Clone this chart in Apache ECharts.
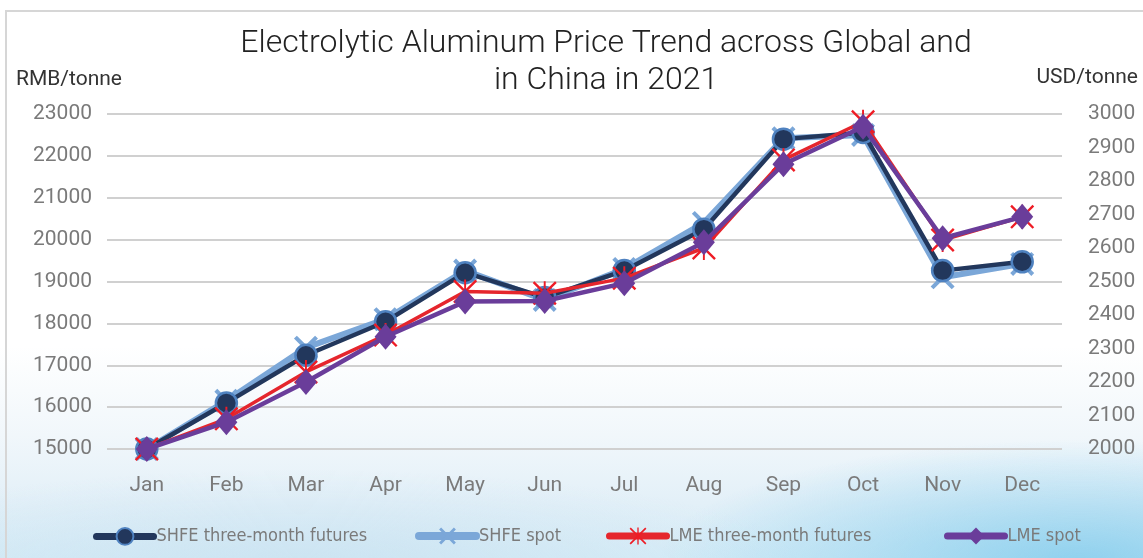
<!DOCTYPE html>
<html>
<head>
<meta charset="utf-8">
<script src="https://cdn.jsdelivr.net/npm/echarts@6/dist/echarts.min.js"></script>
<style>
html,body{margin:0;padding:0;width:1143px;height:558px;overflow:hidden;}
body{background:
  radial-gradient(ellipse 420px 120px at 1080px 560px, rgba(120,200,235,0.75), rgba(120,200,235,0) 100%),
  radial-gradient(ellipse 500px 90px at 300px 560px, rgba(200,225,240,0.7), rgba(200,225,240,0) 100%),
  linear-gradient(to bottom, #ffffff 0%, #ffffff 62%, #f1f7fb 78%, #e3f0f8 90%, #d6ecf7 100%);}
#frame{position:absolute;left:5px;top:10px;width:1200px;height:600px;border-left:2px solid #d6d6d6;border-top:2px solid #d6d6d6;}
#chart{position:absolute;left:0;top:0;width:1143px;height:558px;}
</style>
</head>
<body>
<div id="frame"></div>
<div id="chart"></div>
<script>
const months = ['Jan','Feb','Mar','Apr','May','Jun','Jul','Aug','Sep','Oct','Nov','Dec'];
// RMB/tonne (left axis)
const shfeFutures = [15000,16100,17240,18040,19210,18620,19260,20250,22400,22560,19260,19470];
const shfeSpot    = [15000,16150,17420,18100,19260,18560,19300,20400,22420,22500,19100,19420];
// USD/tonne (right axis)
const lmeFutures  = [2000,2090,2230,2340,2470,2465,2510,2600,2863,2977,2624,2693];
const lmeSpot     = [2000,2080,2200,2335,2440,2442,2495,2617,2850,2962,2629,2693];
const leftTicks = {min:15000, max:23000, interval:1000};
const rightTicks = {min:2000, max:3000, interval:100};
const seriesNames = ['SHFE three-month futures','SHFE spot','LME three-month futures','LME spot'];

const xPath = 'path://M0,12L12,0L50,38L88,0L100,12L62,50L100,88L88,100L50,62L12,100L0,88L38,50Z';
const starPath = 'path://M0,7L7,0L50,43L93,0L100,7L57,50L100,93L93,100L50,57L7,100L0,93L43,50Z M46,0L54,0L54,100L46,100Z';

const chart = echarts.init(document.getElementById('chart'), null, {renderer:'canvas'});
const labelColor = '#7a7a7a';
const legendText = {fontFamily:'"Liberation Sans Narrow","DejaVu Sans Condensed",sans-serif', fontSize:18, color:'#7a7a7a', padding:[0,0,0,-2]};
function legendAt(name, left, lw){
  return {data:[{name:name}], left:left, top:527, itemWidth:57, itemHeight:21, itemGap:0,
          textStyle:legendText, padding:0, lineStyle:{width:lw, cap:'round'}};
}
chart.setOption({
  backgroundColor:'transparent',
  animation:false,
  title:{
    text:'Electrolytic Aluminum Price Trend across Global and\nin China in 2021',
    left:601, top:20, textAlign:'center',
    textStyle:{fontFamily:'Roboto, sans-serif', fontWeight:300, fontSize:32, color:'#222', lineHeight:37}
  },
  graphic:[
    {type:'text', left:16, top:69, style:{text:'RMB/tonne', font:'21px Roboto, sans-serif', fill:'#333'}},
    {type:'text', right:5, top:67, style:{text:'USD/tonne', font:'21px Roboto, sans-serif', fill:'#333'}}
  ],
  legend:[legendAt(seriesNames[0],93,7), legendAt(seriesNames[1],415,8), legendAt(seriesNames[2],606,7), legendAt(seriesNames[3],944,7)],
  grid:{left:107, right:81, top:114, bottom:109, containLabel:false},
  xAxis:{
    type:'category', data:months, boundaryGap:true,
    axisLine:{show:false}, axisTick:{show:false},
    axisLabel:{color:labelColor, fontSize:21, fontFamily:'Roboto, sans-serif', margin:26}
  },
  yAxis:[
    {type:'value', min:leftTicks.min, max:leftTicks.max, interval:leftTicks.interval,
     axisLine:{show:false}, axisTick:{show:false},
     axisLabel:{color:labelColor, fontSize:21, fontFamily:'Roboto, sans-serif', margin:15, formatter:v=>String(v)},
     splitLine:{lineStyle:{color:'#d0d0d0', width:2}}},
    {type:'value', min:rightTicks.min, max:rightTicks.max, interval:rightTicks.interval,
     axisLine:{show:false}, axisTick:{show:false},
     axisLabel:{color:labelColor, fontSize:21, fontFamily:'Roboto, sans-serif', margin:26, formatter:v=>String(v)},
     splitLine:{show:false}}
  ],
  series:[
    {name:seriesNames[1], type:'line', yAxisIndex:0, data:shfeSpot, z:2,
     symbol:xPath, symbolSize:24, lineStyle:{color:'#7ba7d8', width:6},
     itemStyle:{color:'#7ba7d8'}},
    {name:seriesNames[0], type:'line', yAxisIndex:0, data:shfeFutures, z:3,
     symbol:'circle', symbolSize:21, lineStyle:{color:'#22375c', width:4.5},
     itemStyle:{color:'#22375c', borderColor:'#4f82c0', borderWidth:2.5}},
    {name:seriesNames[2], type:'line', yAxisIndex:1, data:lmeFutures, z:4,
     symbol:starPath, symbolSize:24, lineStyle:{color:'#e5262d', width:3.5},
     itemStyle:{color:'#ee1c25'}},
    {name:seriesNames[3], type:'line', yAxisIndex:1, data:lmeSpot, z:5,
     symbol:'diamond', symbolSize:[22,26], lineStyle:{color:'#6a3d9a', width:4.5},
     itemStyle:{color:'#6a3d9a'}}
  ]
});
</script>
</body>
</html>
